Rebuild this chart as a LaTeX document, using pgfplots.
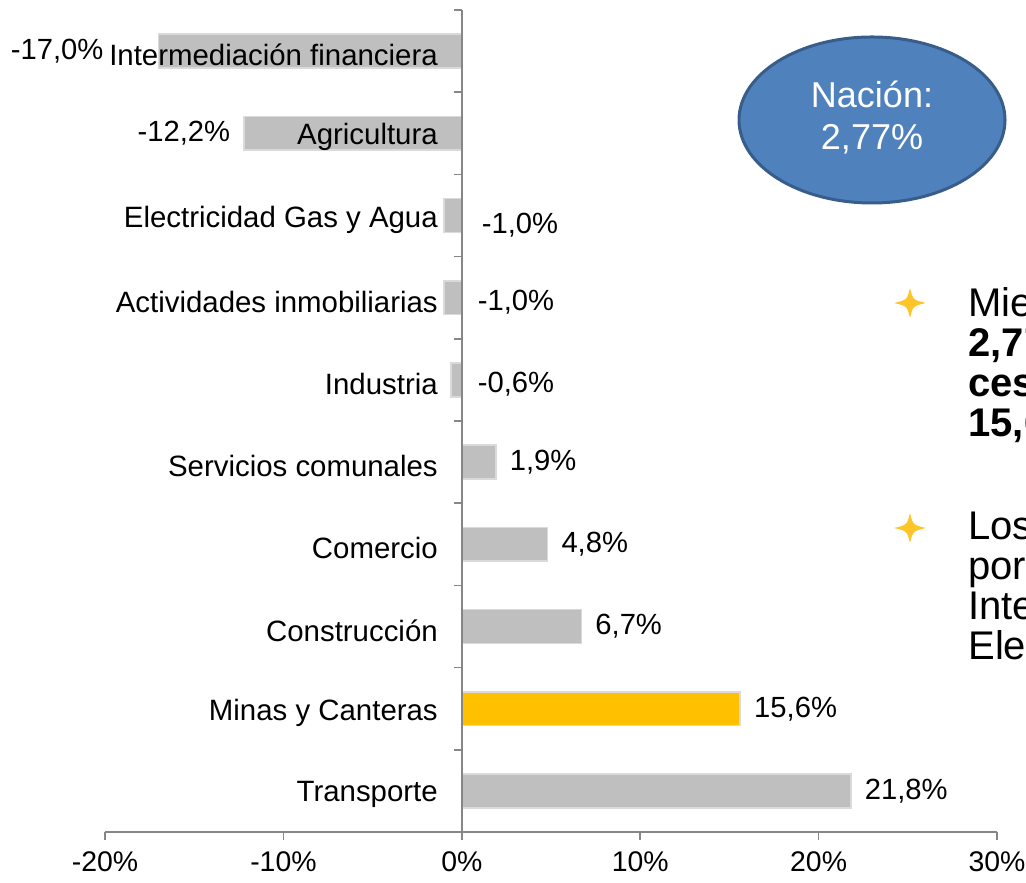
\documentclass[border=0pt]{standalone}
\usepackage{pgfplots}
\pgfplotsset{compat=1.18}
\usepackage{fontspec}
\setmainfont{Liberation Sans}
\definecolor{barGray}{HTML}{BFBFBF}
\definecolor{barEdge}{HTML}{DADADA}
\definecolor{barYellow}{HTML}{FFC000}
\definecolor{axisGray}{HTML}{868686}
\definecolor{ellFill}{HTML}{4F81BD}
\definecolor{ellDraw}{HTML}{385D8A}
\definecolor{starY}{HTML}{FDC52A}
\begin{document}
\begin{tikzpicture}
\useasboundingbox (0,0) rectangle (513pt,441pt);
\clip (0,0) rectangle (513pt,441pt);
\begin{axis}[
  at={(52.5pt,25pt)}, anchor=south west,
  width=446pt, height=411pt, scale only axis,
  xmin=-20, xmax=30, ymin=-0.5, ymax=9.5,
  axis x line=bottom, axis y line=middle,
  axis on top,
  axis line style={draw=axisGray, line width=0.75pt, -},
  hide obscured x ticks=false, hide obscured y ticks=false,
  xtick={-20,-10,0,10,20,30},
  xticklabels={-20\%,-10\%,0\%,10\%,20\%,30\%},
  ytick={0,...,9},
  yticklabels={Transporte, Minas y Canteras, Construcción, Comercio, Servicios comunales, Industria, Actividades inmobiliarias, Electricidad Gas y Agua, Agricultura, Intermediación financiera},
  minor ytick={-0.5,0.5,...,9.5},
  tick align=outside,
  major tick length=4pt, minor tick length=4pt,
  tick style={draw=axisGray, line width=0.75pt},
  every major y tick/.append style={draw=none},
  xticklabel style={font=\fontsize{14.2}{17}\selectfont, yshift=-2.5pt},
  yticklabel style={font=\fontsize{14.7}{17}\selectfont, xshift=-4.5pt, yshift=-2pt},
  clip=false,
]
% bars
\addplot[xbar, bar width=0.41, bar shift=0pt, fill=barGray, draw=barEdge, line width=0.8pt]
  coordinates {(21.8,0) (6.7,2) (4.8,3) (1.9,4) (-0.6,5) (-1.0,6) (-1.0,7) (-12.2,8) (-17.0,9)};
\addplot[xbar, bar width=0.41, bar shift=0pt, fill=barYellow, draw=barEdge, line width=0.8pt]
  coordinates {(15.6,1)};
% value labels: positive bars
\addplot[draw=none, nodes near coords, point meta=explicit symbolic,
  every node near coord/.append style={anchor=west, xshift=3.5pt, font=\fontsize{14.6}{17}\selectfont}]
  coordinates {(21.8,0) [21,8\%] (15.6,1) [15,6\%] (6.7,2) [6,7\%] (4.8,3) [4,8\%] (1.9,4) [1,9\%]};
% small negative bars: labels right of the axis
\addplot[draw=none, nodes near coords, point meta=explicit symbolic,
  every node near coord/.append style={anchor=west, xshift=4.5pt, yshift=-2pt, font=\fontsize{14.6}{17}\selectfont}]
  coordinates {(0,5) [-0,6\%] (0,6) [-1,0\%]};
\addplot[draw=none, nodes near coords, point meta=explicit symbolic,
  every node near coord/.append style={anchor=west, xshift=6.5pt, yshift=-5pt, font=\fontsize{14.6}{17}\selectfont}]
  coordinates {(0,7) [-1,0\%]};
% large negative bars
\addplot[draw=none, nodes near coords, point meta=explicit symbolic,
  every node near coord/.append style={anchor=east, xshift=-3.5pt, font=\fontsize{14.6}{17}\selectfont}]
  coordinates {(-12.2,8) [-12,2\%]};
\addplot[draw=none, nodes near coords, point meta=explicit symbolic,
  every node near coord/.append style={anchor=east, xshift=-24pt, font=\fontsize{14.6}{17}\selectfont}]
  coordinates {(-17.0,9) [-17,0\%]};
\end{axis}
% Nacion ellipse
\draw[fill=ellFill, draw=ellDraw, line width=1.5pt] (436pt,381pt) ellipse [x radius=66.5pt, y radius=41.5pt];
\node[anchor=base, text=white, font=\fontsize{18}{22}\selectfont, inner sep=0pt] at (436pt,387pt) {Nación:};
\node[anchor=base, text=white, font=\fontsize{18}{22}\selectfont, inner sep=0pt] at (436pt,366pt) {2,77\%};
% bullet stars
\foreach \sy in {289.5pt,177pt}{
  \fill[starY, shift={(455pt,\sy)}] (0,7.5pt) .. controls (1.5pt,1.5pt) .. (8pt,0) .. controls (1.5pt,-1.5pt) .. (0,-7.5pt) .. controls (-1.5pt,-1.5pt) .. (-8pt,0) .. controls (-1.5pt,1.5pt) .. cycle;
}
% bullet text (cut at the right edge)
\node[anchor=base west, inner sep=0pt, align=left, font=\fontsize{20}{20}\selectfont] at (484pt,222.5pt)
  {Mientras la Nación creció\\\textbf{2,77\%, el departamento}\\\textbf{cesar creció un}\\\textbf{15,6\% en minería}};
\node[anchor=base west, inner sep=0pt, align=left, font=\fontsize{20}{20}\selectfont] at (484pt,111pt)
  {Los sectores más afectados\\por el decrecimiento fueron\\Intermediación financiera y\\Electricidad Gas y Agua};
\end{tikzpicture}
\end{document}
